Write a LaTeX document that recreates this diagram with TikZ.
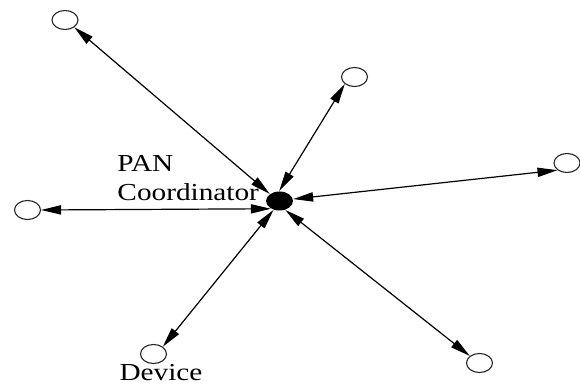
\documentclass[tikz,border=0pt]{standalone}
\usepackage{fontspec}
\setmainfont{Liberation Serif}
\usetikzlibrary{shapes.geometric,arrows.meta}
\tikzset{
  dev/.style={ellipse, draw=black!85, line width=0.55pt, minimum width=13pt, minimum height=9.5pt, inner sep=0pt},
  hubnode/.style={ellipse, fill=black, minimum width=13.5pt, minimum height=9.5pt, inner sep=0pt},
  link/.style={line width=0.6pt, {Triangle[length=10pt,width=4.6pt]}-{Triangle[length=10pt,width=4.6pt]}},
  lbl/.style={font=\fontsize{12.2pt}{14pt}\selectfont, inner sep=0pt, xscale=1.2, transform shape}
}
\begin{document}
\begin{tikzpicture}[x=0.5pt,y=-0.5pt]
\useasboundingbox (0,0) rectangle (580,385);
\node[hubnode] (hub) at (279.5,201) {};
\node[dev] (tl) at (65,20) {};
\node[dev] (tm) at (354.5,77) {};
\node[dev] (r) at (567,163) {};
\node[dev] (l) at (27.5,210) {};
\node[dev] (d) at (153.5,354) {};
\node[dev] (br) at (479.5,363) {};
\node[lbl, anchor=base west] (pan) at (117,172) {PAN};
\node[lbl, anchor=base west] (coord) at (117,201) {Coordinator};
\node[lbl, anchor=base] (devlbl) at (161,381) {Device};
\draw[link] (hub.144) -- (tl.322);
\draw[link] (hub.92) -- (tm.216);
\draw[link] (hub.8) -- (r.217);
\draw[link] (hub.222) -- (l.east);
\draw[link] (hub.236) -- (d.38);
\draw[link] (hub.303) -- (br.144);
\end{tikzpicture}
\end{document}
